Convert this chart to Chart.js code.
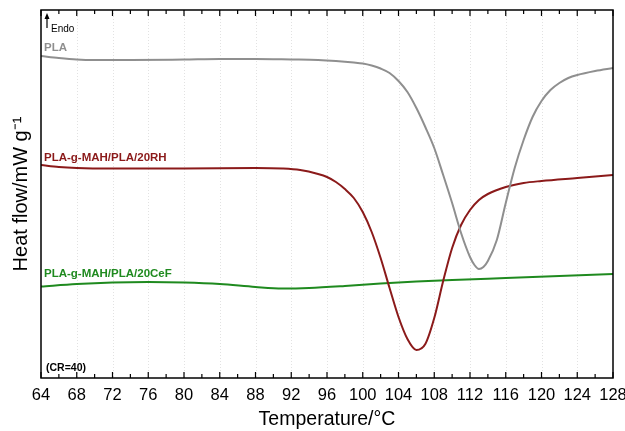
<!DOCTYPE html>
<html>
<head>
<meta charset="utf-8">
<script src="https://cdn.jsdelivr.net/npm/chart.js@4.4.1/dist/chart.umd.min.js"></script>
<style>
  html, body { margin: 0; padding: 0; background: #fff; }
  #box { width: 625px; height: 431px; }
</style>
</head>
<body>
<div id="box"><canvas id="dscChart"></canvas></div>
<script>
// DSC cooling curves (CR=40), heat flow in arbitrary offset units
const plaT  = [64, 66, 68, 70, 74, 80, 84, 88, 92, 95, 97, 99, 100, 101, 102, 103, 104, 105, 106, 107, 108, 109, 110, 111, 112, 112.5, 113, 113.5, 114, 115, 116, 117, 118, 119, 120, 121, 122, 123, 124, 126, 128]
const plaHF = [32.2, 32.0, 31.85, 31.8, 31.8, 31.85, 31.9, 31.9, 31.85, 31.8, 31.7, 31.55, 31.45, 31.25, 30.95, 30.5, 29.7, 28.6, 27.0, 25.1, 23.0, 20.3, 17.5, 14.5, 12.1, 11.3, 10.9, 11.1, 11.7, 13.8, 17.5, 21.0, 23.8, 26.1, 27.7, 28.8, 29.5, 30.0, 30.3, 30.7, 31.0]

const rhT  = [64, 66, 68, 72, 80, 88, 91, 93, 95, 96, 97, 98, 99, 100, 101, 102, 103, 104, 105, 106, 107, 108, 109, 110, 111, 112, 113, 114, 116, 118, 120, 124, 128]
const rhHF = [21.3, 21.1, 21.0, 20.95, 20.95, 21.0, 20.95, 20.8, 20.4, 20.1, 19.6, 18.9, 18.0, 16.6, 14.6, 12.0, 9.0, 6.1, 3.9, 2.8, 3.4, 6.0, 9.7, 13.0, 15.3, 16.8, 17.8, 18.4, 19.1, 19.5, 19.7, 20.0, 20.3]

const cefT  = [64, 68, 72, 76, 80, 84, 88, 91, 94, 98, 102, 106, 110, 116, 122, 128]
const cefHF = [9.15, 9.4, 9.55, 9.6, 9.55, 9.4, 9.1, 8.95, 9.0, 9.2, 9.45, 9.65, 9.8, 10.0, 10.2, 10.4]

const seriesNames = ['PLA', 'PLA-g-MAH/PLA/20RH', 'PLA-g-MAH/PLA/20CeF']
const seriesColors = ['#8f8f8f', '#8b1a1a', '#1f8a1f']

const xMin = 64, xMax = 128, xStep = 4
const yMin = 0, yMax = 36.8

const toPoints = (xs, ys) => xs.map((x, i) => ({x: x, y: ys[i]}))

const FONT = 'Liberation Sans, Arial, Helvetica, sans-serif'

// faint dotted grid under the curves
const grid = {
    id: 'grid',
    beforeDatasetsDraw(chart) {
        const ctx = chart.ctx
        const a = chart.chartArea
        const xs = chart.scales.x
        ctx.save()
        ctx.strokeStyle = '#e2e2e2'
        ctx.lineWidth = 1
        ctx.setLineDash([1, 2])
        for (let v = xMin + xStep; v < xMax; v += xStep) {
            const px = Math.round(xs.getPixelForValue(v)) + 0.5
            ctx.beginPath()
            ctx.moveTo(px, a.top)
            ctx.lineTo(px, a.bottom)
            ctx.stroke()
        }
        ctx.restore()
    }
}

// frame, inward ticks on bottom and top, and curve labels
const decor = {
    id: 'decor',
    afterDraw(chart) {
        const ctx = chart.ctx
        const a = chart.chartArea
        const xs = chart.scales.x
        ctx.save()
        ctx.strokeStyle = '#000'
        ctx.lineWidth = 1.5
        ctx.strokeRect(a.left, a.top, a.right - a.left, a.bottom - a.top)

        ctx.lineWidth = 1.2
        for (let v = xMin; v <= xMax; v += 2) {
            const px = xs.getPixelForValue(v)
            const len = (v % 4 === 0) ? 6 : 4
            ctx.beginPath()
            ctx.moveTo(px, a.bottom)
            ctx.lineTo(px, a.bottom - len)
            ctx.moveTo(px, a.top)
            ctx.lineTo(px, a.top + len)
            ctx.stroke()
        }

        // Endo arrow
        const ax = a.left + 6
        ctx.lineWidth = 1.2
        ctx.beginPath()
        ctx.moveTo(ax, a.top + 18)
        ctx.lineTo(ax, a.top + 7)
        ctx.stroke()
        ctx.beginPath()
        ctx.moveTo(ax, a.top + 3)
        ctx.lineTo(ax - 2.5, a.top + 9)
        ctx.lineTo(ax + 2.5, a.top + 9)
        ctx.closePath()
        ctx.fillStyle = '#000'
        ctx.fill()
        ctx.font = '10px ' + FONT
        ctx.textBaseline = 'alphabetic'
        ctx.fillText('Endo', ax + 4, a.top + 22)

        ctx.font = 'bold 11.5px ' + FONT
        const labelY = [a.top + 41, a.top + 151, a.top + 267]
        seriesNames.forEach((n, i) => {
            ctx.fillStyle = seriesColors[i]
            ctx.fillText(n, a.left + 3, labelY[i])
        })
        ctx.fillStyle = '#000'
        ctx.font = 'bold 10.5px ' + FONT
        ctx.fillText('(CR=40)', a.left + 5, a.bottom - 7)
        ctx.restore()
    }
}

const config = {
    type: 'line',
    data: {
        datasets: [
            {label: seriesNames[0], data: toPoints(plaT, plaHF), borderColor: seriesColors[0]},
            {label: seriesNames[1], data: toPoints(rhT, rhHF), borderColor: seriesColors[1]},
            {label: seriesNames[2], data: toPoints(cefT, cefHF), borderColor: seriesColors[2]}
        ]
    },
    options: {
        responsive: false,
        animation: false,
        layout: {padding: {top: 10, right: 0, bottom: 0, left: 0}},
        elements: {
            point: {radius: 0},
            line: {borderWidth: 2, tension: 0.4, cubicInterpolationMode: 'monotone'}
        },
        plugins: {
            legend: {display: false},
            tooltip: {enabled: false}
        },
        scales: {
            x: {
                type: 'linear',
                min: xMin,
                max: xMax,
                afterFit(scale) {
                    scale.height = 53
                    scale.paddingRight = 12
                },
                ticks: {
                    stepSize: xStep,
                    color: '#000',
                    padding: 8,
                    maxRotation: 0,
                    font: {family: FONT, size: 16.5}
                },
                grid: {display: false, drawTicks: false},
                border: {display: false},
                title: {
                    display: true,
                    text: 'Temperature/°C',
                    color: '#000',
                    padding: 0,
                    font: {family: FONT, size: 19.5}
                }
            },
            y: {
                min: yMin,
                max: yMax,
                afterFit(scale) { scale.width = 41 },
                ticks: {display: false},
                grid: {display: false},
                border: {display: false},
                title: {
                    display: true,
                    text: 'Heat flow/mW g⁻¹',
                    color: '#000',
                    padding: {top: 9, bottom: 0},
                    font: {family: FONT, size: 20}
                }
            }
        }
    },
    plugins: [grid, decor]
}

const canvas = document.getElementById('dscChart')
canvas.width = 625
canvas.height = 431
const myChart = new Chart(canvas, config)
</script>
</body>
</html>
